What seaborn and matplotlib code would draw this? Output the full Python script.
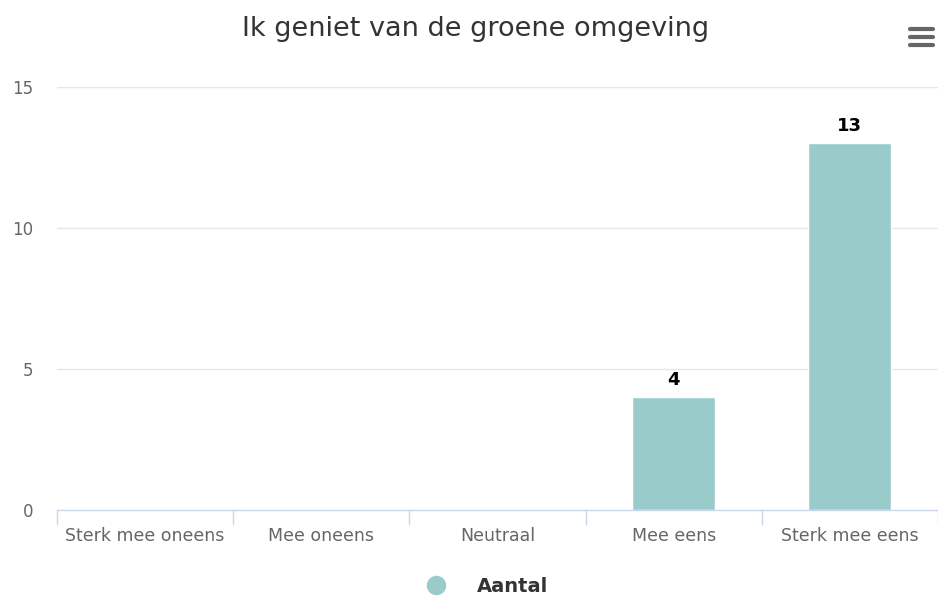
import matplotlib.pyplot as plt
import pandas as pd
import seaborn as sns
from matplotlib.lines import Line2D

sns.set_theme(style="white")
plt.rcParams["font.family"] = ["DejaVu Sans"]

categories = ["Sterk mee oneens", "Mee oneens", "Neutraal", "Mee eens", "Sterk mee eens"]
counts = [0, 0, 0, 4, 13]
series_name = "Aantal"
title = "Ik geniet van de groene omgeving"
yticks = [0, 5, 10, 15]

bar_color = "#99cbcb"

df = pd.DataFrame({"categorie": categories, "aantal": counts})

fig = plt.figure(figsize=(9.38, 5.97), dpi=100)
ax = fig.add_axes([57 / 938, 1 - 510 / 597, 881 / 938, 423 / 597])

sns.barplot(data=df, x="categorie", y="aantal", color=bar_color, width=0.47,
            saturation=1, ax=ax, errorbar=None)

ax.set_xlim(-0.5, len(categories) - 0.5)
ax.set_ylim(0, 15)
ax.set_yticks(yticks)
ax.set_yticklabels([str(t) for t in yticks], fontsize=12, color="#666666")
ax.set_xlabel("")
ax.set_ylabel("")
ax.tick_params(axis="y", length=0, pad=17)
ax.tick_params(axis="x", length=0, pad=12, labelsize=12.5, labelcolor="#666666")

for t in yticks[1:]:
    ax.axhline(t, color="#e6e6e6", lw=1, zorder=0)

for side in ["top", "right", "left"]:
    ax.spines[side].set_visible(False)
ax.spines["bottom"].set_color("#ccd6eb")
ax.spines["bottom"].set_linewidth(1)

# category boundary ticks below the axis
for b in range(len(categories) + 1):
    x = b - 0.5
    ax.plot([x, x], [0, -0.5], color="#ccd6eb", lw=1, clip_on=False, zorder=1)

# value labels
for i, v in enumerate(counts):
    if v > 0:
        ax.text(i, v + 0.3, str(v), ha="center", va="bottom", fontsize=13,
                fontweight="bold", color="#000000")

fig.text(476 / 938, 1 - 29 / 597, title, ha="center", va="center", fontsize=19.5, color="#333333")

# legend
fig.add_artist(Line2D([436 / 938], [1 - 585 / 597], marker="o", markersize=13,
                      color=bar_color, linestyle="none"))
fig.text(477 / 938, 1 - 586 / 597, series_name, ha="left", va="center", fontsize=14,
         fontweight="bold", color="#333333")

# menu icon
for yy in [29, 37, 45]:
    fig.add_artist(Line2D([910 / 938, 933 / 938], [1 - yy / 597, 1 - yy / 597],
                          color="#666666", lw=3, solid_capstyle="round"))

fig.savefig("out.png", dpi=100, facecolor="white")
